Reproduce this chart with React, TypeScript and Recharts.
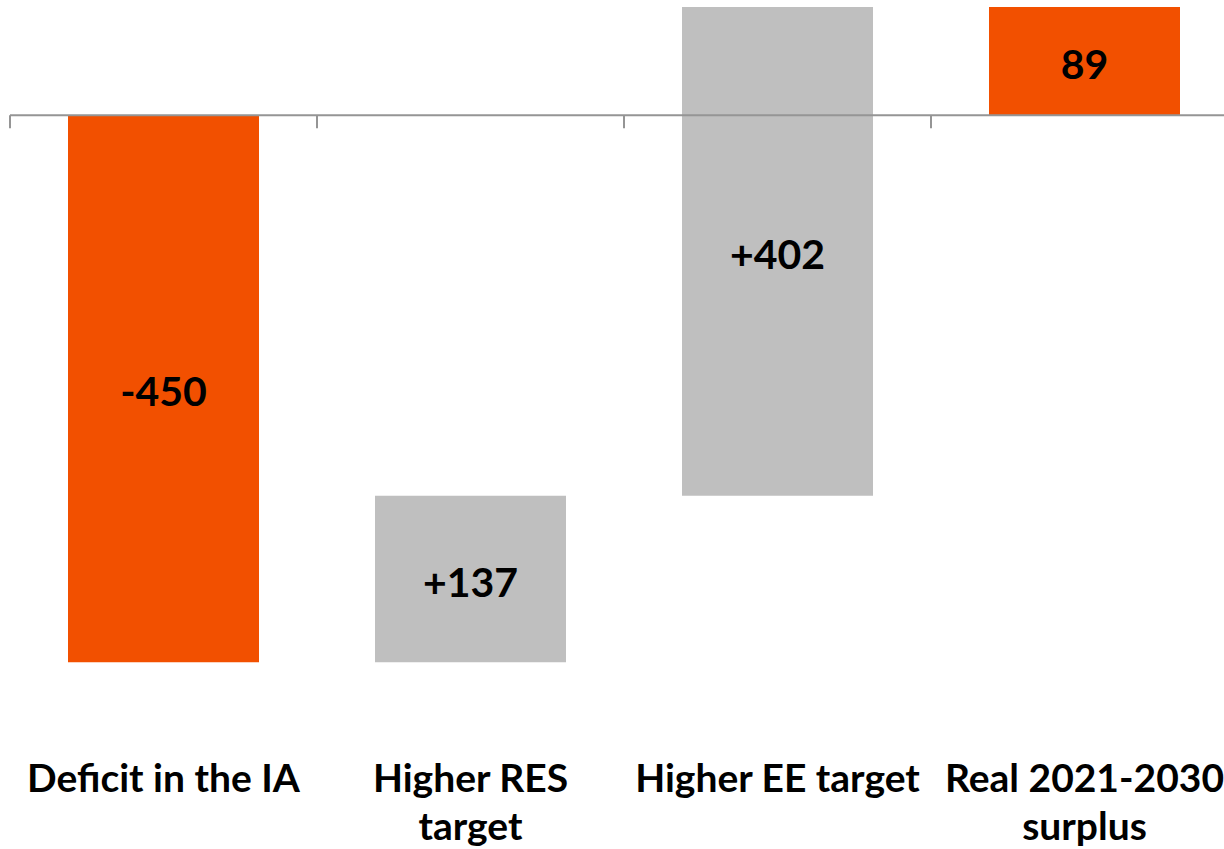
import React from 'react';
import { BarChart, Bar, XAxis, YAxis, ReferenceLine, LabelList, Cell } from 'recharts';

const categories = ['Deficit in the IA', 'Higher RES target', 'Higher EE target', 'Real 2021-2030 surplus'];
// how each category label is broken into lines in the original
const categoryLines = [['Deficit in the IA'], ['Higher RES', 'target'], ['Higher EE target'], ['Real 2021-2030', 'surplus']];
const steps = [-450, 137, 402, 89];
const isTotal = [true, false, false, true];
const valueLabels = ['-450', '+137', '+402', '89'];

const ORANGE = '#F25000';
const GREY = '#BFBFBF';
const AXIS = '#959595';
const FONT = 'Lato, "Open Sans", sans-serif';

// waterfall: totals start at zero, deltas stack on the running sum
let running = 0;
const chartData = categories.map((name, i) => {
  const start = isTotal[i] ? 0 : running;
  const end = isTotal[i] ? steps[i] : running + steps[i];
  running = end;
  return { name, range: [start, end], label: valueLabels[i], total: isTotal[i] };
});

const CategoryTick = (props: any) => {
  const { x, y, index } = props;
  const lines = categoryLines[index] || [];
  return (
    <text x={x} y={y + 61} textAnchor="middle" fontFamily={FONT} fontWeight={700} fontSize={39} fill="#000">
      {lines.map((ln, i) => (
        <tspan key={i} x={x} dy={i === 0 ? 0 : 48}>
          {ln}
        </tspan>
      ))}
    </text>
  );
};

const ZeroAxis = (props: any) => {
  const { x1, y1, x2, y2 } = props;
  const n = categories.length;
  const marks = Array.from({ length: n + 1 }, (_, i) => x1 + (i * (x2 - x1)) / n);
  return (
    <g>
      <line x1={x1} y1={y1} x2={x2} y2={y2} stroke={AXIS} strokeWidth={2} />
      {marks.map((mx, i) => (
        <line key={i} x1={mx} y1={y1} x2={mx} y2={y1 + 13} stroke={AXIS} strokeWidth={2} />
      ))}
    </g>
  );
};

export default function App() {
  return (
    <div style={{ position: 'absolute', left: 0, top: 0, width: 1224, height: 849, overflow: 'hidden', background: '#fff' }}>
      <BarChart
        width={1240}
        height={849}
        data={chartData}
        margin={{ top: 7, right: 2, bottom: 0, left: 10 }}
      >
        <XAxis
          dataKey="name"
          axisLine={false}
          tickLine={false}
          interval={0}
          height={126}
          tick={<CategoryTick />}
        />
        <YAxis hide domain={[-500, 89]} allowDataOverflow />
        <Bar dataKey="range" barSize={191} isAnimationActive={false}>
          {chartData.map((d, i) => (
            <Cell key={i} fill={d.total ? ORANGE : GREY} />
          ))}
          <LabelList
            dataKey="label"
            position="center"
            fill="#000"
            fontFamily={FONT}
            fontWeight={700}
            fontSize={41}
            dy={3}
          />
        </Bar>
        <ReferenceLine y={0} shape={<ZeroAxis />} />
      </BarChart>
    </div>
  );
}
